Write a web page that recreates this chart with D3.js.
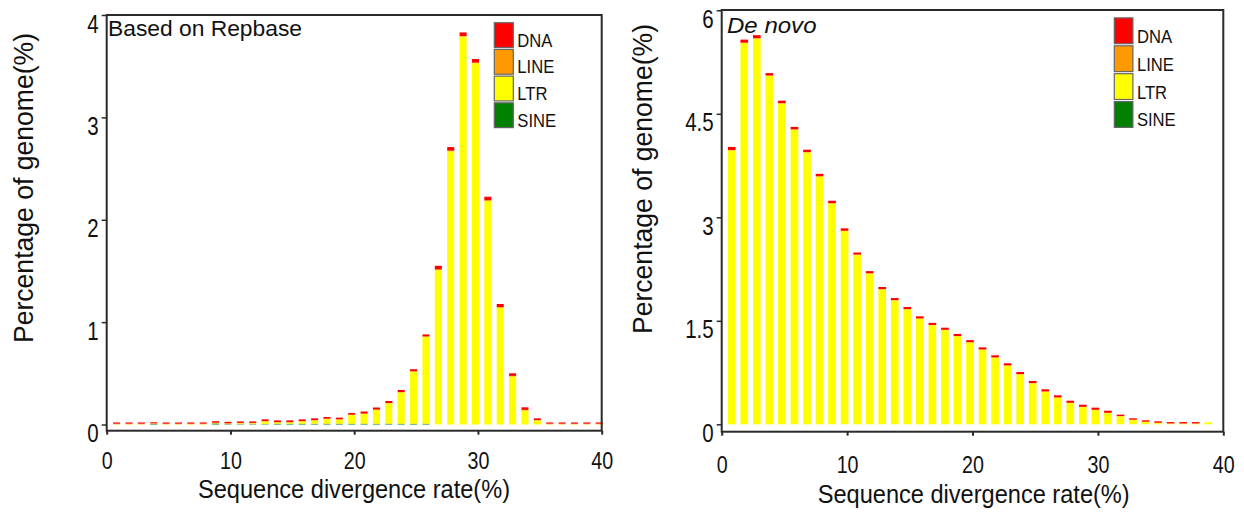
<!DOCTYPE html>
<html>
<head>
<meta charset="utf-8">
<script src="https://cdn.jsdelivr.net/npm/d3@7"></script>
<style>
  html, body { margin: 0; padding: 0; background: #fff; }
  svg { display: block; }
  text { font-family: "Liberation Sans", Arial, sans-serif; fill: #111; }
</style>
</head>
<body>
<svg id="chart" width="1244" height="514"></svg>
<script>
// ---------- DATA ----------
const seriesKeys = ["DNA", "LINE", "LTR", "SINE"];
const seriesColors = ["#ff0000", "#ff9900", "#ffff00", "#007f00"];
const xTickValues = [0, 10, 20, 30, 40];
const xLabel = "Sequence divergence rate(%)";
const yLabel = "Percentage of genome(%)";

// Left panel: Based on Repbase (bins 0..39)
const leftBins = [0,1,2,3,4,5,6,7,8,9,10,11,12,13,14,15,16,17,18,19,20,21,22,23,24,25,26,27,28,29,30,31,32,33,34,35,36,37,38,39];
const leftDNA  = [0.012,0.012,0.012,0.01,0.012,0.012,0.012,0.012,0.014,0.014,0.014,0.014,0.016,0.016,0.016,0.016,0.016,0.016,0.016,0.016,0.02,0.02,0.02,0.02,0.02,0.02,0.035,0.035,0.035,0.035,0.035,0.03,0.025,0.025,0.016,0.012,0.012,0.012,0.012,0.012];
const leftLINE = [0.006,0.006,0.006,0.004,0.006,0.006,0.006,0.006,0.004,0.004,0.004,0.004,0.004,0.004,0.004,0.004,0.004,0.004,0.004,0.004,0.004,0.004,0.004,0.004,0.004,0.004,0.006,0.006,0.006,0.006,0.006,0.006,0.006,0.006,0.005,0.006,0.006,0.006,0.006,0.006];
const leftLTR  = [0.002,0.002,0.002,0.002,0.002,0.002,0.002,0.002,0.004,0.004,0.008,0.008,0.026,0.012,0.012,0.022,0.032,0.045,0.039,0.084,0.095,0.134,0.198,0.305,0.508,0.848,1.509,2.669,3.789,3.529,2.184,1.141,0.469,0.137,0.039,0.002,0.002,0.002,0.002,0.002];
const leftSINE = [0,0,0,0.006,0,0,0,0,0.01,0.004,0.004,0.004,0.004,0.008,0.008,0.008,0.008,0.008,0.008,0.008,0.008,0.008,0.008,0.008,0.008,0.008,0,0,0,0,0,0,0,0,0,0,0,0,0,0];
const leftYTicks = [0, 1, 2, 3, 4];

// Right panel: De novo (bins 0..38)
const rightBins = [0,1,2,3,4,5,6,7,8,9,10,11,12,13,14,15,16,17,18,19,20,21,22,23,24,25,26,27,28,29,30,31,32,33,34,35,36,37,38];
const rightDNA  = [0.045,0.045,0.045,0.035,0.035,0.035,0.035,0.035,0.035,0.035,0.03,0.03,0.03,0.03,0.03,0.03,0.03,0.03,0.03,0.03,0.03,0.03,0.03,0.03,0.03,0.03,0.03,0.03,0.03,0.03,0.03,0.02,0.02,0.02,0.02,0.018,0.018,0.018,0];
const rightLINE = [0.005,0.005,0.005,0.005,0.005,0.005,0.005,0.005,0.005,0.005,0.005,0.005,0.005,0.005,0.005,0.005,0.005,0.005,0.005,0.005,0.005,0.005,0.005,0.005,0.005,0.005,0.005,0.005,0.005,0.005,0.005,0.005,0.005,0.005,0.005,0.008,0.008,0.008,0];
const rightLTR  = [3.97,5.525,5.59,5.05,4.65,4.27,3.94,3.59,3.2,2.8,2.455,2.185,1.955,1.795,1.665,1.53,1.435,1.365,1.275,1.185,1.08,0.965,0.849,0.723,0.593,0.472,0.385,0.307,0.249,0.206,0.162,0.115,0.062,0.033,0.018,0.006,0.006,0.006,0.029];
const rightSINE = [0,0,0,0,0,0,0,0,0,0,0,0,0,0,0,0,0,0,0,0,0,0,0,0,0,0,0,0,0,0,0,0,0,0,0,0,0,0,0];
const rightYTicks = [0, 1.5, 3, 4.5, 6];

// ---------- DRAW ----------
const svg = d3.select("#chart");
const color = d3.scaleOrdinal().domain(seriesKeys).range(seriesColors);

function drawPanel(cfg) {
  const g = svg.append("g");
  const x = d3.scaleLinear().domain([0, 40]).range([cfg.left, cfg.right]);
  const y = d3.scaleLinear().domain([0, cfg.yMax]).range([cfg.zeroY, cfg.topY]);

  const rows = cfg.bins.map((b, i) => ({
    bin: b, DNA: cfg.DNA[i], LINE: cfg.LINE[i], LTR: cfg.LTR[i], SINE: cfg.SINE[i]
  }));
  const stacked = d3.stack().keys(["SINE", "LTR", "LINE", "DNA"])(rows);
  const bw = (x(1) - x(0)) * cfg.barFrac;

  g.append("g").selectAll("g").data(stacked).join("g")
    .attr("fill", d => color(d.key))
    .selectAll("rect").data(d => d).join("rect")
    .attr("x", d => x(d.data.bin + 0.8) - bw / 2)
    .attr("width", bw)
    .attr("y", d => y(d[1]))
    .attr("height", d => Math.max(0, y(d[0]) - y(d[1])));

  // frame
  g.append("rect")
    .attr("x", cfg.left).attr("y", cfg.frameTop)
    .attr("width", cfg.right - cfg.left).attr("height", cfg.frameBottom - cfg.frameTop)
    .attr("fill", "none").attr("stroke", "#2a2a2a").attr("stroke-width", 2);

  // x axis
  const xa = g.append("g").attr("transform", `translate(0,${cfg.frameBottom})`)
    .call(d3.axisBottom(x).tickValues(xTickValues).tickSize(4).tickSizeOuter(0).tickFormat(d3.format("d")));
  xa.select(".domain").remove();
  xa.selectAll("line").attr("stroke", "#2a2a2a").attr("stroke-width", 2);
  xa.selectAll("text")
    .attr("y", null).attr("dy", null)
    .attr("transform", `translate(0,${cfg.xLabelBaseline - cfg.frameBottom}) scale(0.82,1)`)
    .attr("font-size", 24).attr("fill", "#111");

  // y axis
  const ya = g.append("g").attr("transform", `translate(${cfg.left},0)`)
    .call(d3.axisLeft(y).tickValues(cfg.yTicks).tickSize(5).tickSizeOuter(0).tickFormat(d => String(d)));
  ya.select(".domain").remove();
  ya.selectAll("line").attr("stroke", "#2a2a2a").attr("stroke-width", 1.5);
  ya.selectAll("text")
    .attr("x", null).attr("dy", null)
    .attr("transform", "translate(-8,17) scale(0.82,1)")
    .attr("font-size", 25).attr("fill", "#111");

  // axis titles
  g.append("text")
    .attr("x", cfg.xTitleX).attr("y", cfg.xTitleY)
    .attr("text-anchor", "middle").attr("font-size", 26)
    .attr("textLength", 312).attr("lengthAdjust", "spacingAndGlyphs")
    .text(xLabel);
  g.append("text")
    .attr("transform", `translate(${cfg.yTitleX},${cfg.yTitleY}) rotate(-90)`)
    .attr("text-anchor", "middle").attr("font-size", 27)
    .attr("textLength", 310).attr("lengthAdjust", "spacingAndGlyphs")
    .text(yLabel);

  // panel label
  g.append("text")
    .attr("x", cfg.labelX).attr("y", cfg.labelY)
    .attr("font-family", "'Open Sans', 'Noto Sans', sans-serif")
    .attr("font-size", 22)
    .attr("font-style", cfg.labelItalic ? "italic" : "normal")
    .attr("textLength", cfg.labelWidth).attr("lengthAdjust", "spacingAndGlyphs")
    .text(cfg.label);

  // legend
  const lg = g.append("g");
  seriesKeys.forEach((k, i) => {
    const yy = cfg.legY + i * cfg.legStep;
    lg.append("rect")
      .attr("x", cfg.legX).attr("y", yy)
      .attr("width", cfg.legW).attr("height", cfg.legH)
      .attr("fill", color(k)).attr("stroke", "#666").attr("stroke-width", 1.2);
    lg.append("text")
      .attr("transform", `translate(${cfg.legX + cfg.legW + 4},${yy + cfg.legH - 1}) scale(0.9,1)`)
      .attr("font-size", 18.5)
      .text(k);
  });
}

drawPanel({
  bins: leftBins, DNA: leftDNA, LINE: leftLINE, LTR: leftLTR, SINE: leftSINE,
  left: 106.7, right: 601.7, frameTop: 15, frameBottom: 430.7,
  zeroY: 424.5, topY: 15, yMax: 4, yTicks: leftYTicks, barFrac: 0.57,
  xLabelBaseline: 469, xTitleX: 354, xTitleY: 498,
  yTitleX: 33, yTitleY: 188,
  label: "Based on Repbase", labelItalic: false, labelX: 108, labelY: 36, labelWidth: 194,
  legX: 494.3, legY: 22.7, legStep: 26.7, legW: 19, legH: 24.8
});

drawPanel({
  bins: rightBins, DNA: rightDNA, LINE: rightLINE, LTR: rightLTR, SINE: rightSINE,
  left: 721.7, right: 1223.3, frameTop: 10, frameBottom: 431.7,
  zeroY: 424.3, topY: 10.3, yMax: 6, yTicks: rightYTicks, barFrac: 0.61,
  xLabelBaseline: 472.5, xTitleX: 973.7, xTitleY: 503,
  yTitleX: 651.5, yTitleY: 179,
  label: "De novo", labelItalic: true, labelX: 727, labelY: 32.5, labelWidth: 89.5,
  legX: 1114.3, legY: 17.9, legStep: 27.9, legW: 18.6, legH: 25.8
});
</script>
</body>
</html>
